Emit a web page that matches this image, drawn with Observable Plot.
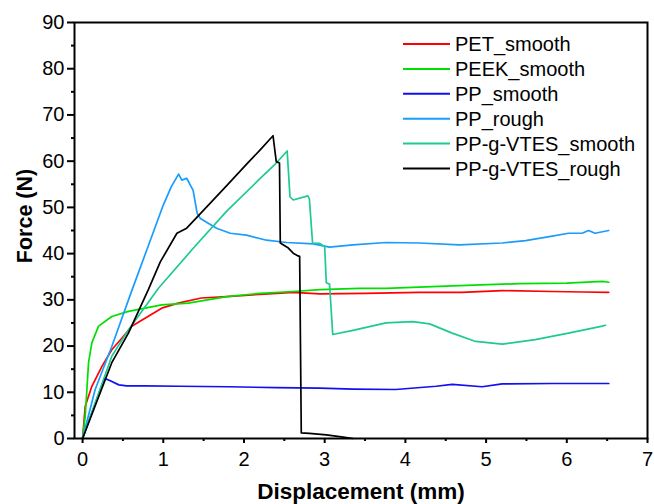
<!DOCTYPE html>
<html>
<head>
<meta charset="utf-8">
<script src="https://cdn.jsdelivr.net/npm/d3@7"></script>
<script src="https://cdn.jsdelivr.net/npm/@observablehq/plot@0.6"></script>
<style>
  html, body { margin: 0; padding: 0; background: #fff; }
  #wrap { position: relative; width: 654px; height: 504px; font-family: "Liberation Sans", Arial, sans-serif; }
  .title { position: absolute; font-weight: bold; color: #000; white-space: nowrap; }
  #ytitle { font-size: 21.5px; left: 25px; top: 216px; transform: translate(-50%, -50%) rotate(-90deg); }
  #xtitle { font-size: 22.5px; left: 361px; top: 492px; transform: translate(-50%, -50%); }
  #legend { position: absolute; left: 0; top: 0; }
</style>
</head>
<body>
<div id="wrap">
  <div id="chart"></div>
  <div class="title" id="ytitle">Force (N)</div>
  <div class="title" id="xtitle">Displacement (mm)</div>
  <svg id="legend" width="654" height="200"></svg>
</div>
<script>
const seriesNames = ["PET_smooth", "PEEK_smooth", "PP_smooth", "PP_rough", "PP-g-VTES_smooth", "PP-g-VTES_rough"];
const seriesColors = ["#ff0000", "#00e000", "#1010f0", "#1a9cff", "#1fc996", "#000000"];

const xTicks = [0, 1, 2, 3, 4, 5, 6, 7];
const xMinorTicks = [0.5, 1.5, 2.5, 3.5, 4.5, 5.5, 6.5];
const yTicks = [0, 10, 20, 30, 40, 50, 60, 70, 80, 90];
const yMinorTicks = [5, 15, 25, 35, 45, 55, 65, 75, 85];

const petX = [0, 0.033, 0.115, 0.24, 0.362, 0.486, 0.61, 0.774, 0.98, 1.185, 1.47, 1.786, 2.198, 2.61, 2.94, 3.5, 4.17, 4.7, 5.2, 5.82, 6.2, 6.52];
const petY = [0, 7, 11.3, 15.6, 19.2, 21.7, 24.3, 26, 28.2, 29.3, 30.4, 30.7, 31.2, 31.6, 31.3, 31.4, 31.6, 31.6, 32, 31.8, 31.7, 31.6];

const peekX = [0, 0.033, 0.074, 0.115, 0.198, 0.362, 0.568, 0.774, 0.98, 1.31, 1.786, 2.198, 2.61, 2.94, 3.43, 3.76, 4.58, 5.41, 6.0, 6.44, 6.52];
const peekY = [0, 4.8, 16.4, 20.7, 24.3, 26.4, 27.5, 28.2, 28.9, 29.3, 30.7, 31.4, 31.8, 32.2, 32.5, 32.5, 33, 33.5, 33.6, 34, 33.8];

const ppSmoothX = [0, 0.27, 0.33, 0.45, 0.547, 0.77, 1.2, 1.8, 2.4, 2.94, 3.35, 3.88, 4.38, 4.58, 4.95, 5.2, 5.82, 6.52];
const ppSmoothY = [0, 13.0, 12.6, 11.6, 11.4, 11.4, 11.3, 11.2, 11.0, 10.9, 10.7, 10.6, 11.3, 11.7, 11.2, 11.8, 11.9, 11.9];

const ppRoughX = [0, 0.156, 0.362, 0.61, 0.8, 1.0, 1.1, 1.19, 1.23, 1.29, 1.37, 1.42, 1.46, 1.66, 1.83, 2.03, 2.28, 2.53, 2.86, 3.06, 3.35, 3.76, 4.17, 4.67, 5.2, 5.49, 5.82, 6.02, 6.19, 6.27, 6.35, 6.52];
const ppRoughY = [0, 10.6, 19.9, 32, 41, 50.5, 54.5, 57.2, 55.9, 56.3, 53.7, 48.7, 47.6, 45.5, 44.4, 44.0, 42.9, 42.4, 42.1, 41.4, 41.9, 42.4, 42.3, 41.9, 42.3, 42.8, 43.8, 44.4, 44.4, 45, 44.4, 45];

const vtesSmoothX = [0, 0.362, 0.568, 0.94, 1.374, 1.786, 2.198, 2.40, 2.535, 2.55, 2.57, 2.61, 2.79, 2.81, 2.85, 2.94, 3.0, 3.02, 3.06, 3.10, 3.35, 3.76, 4.09, 4.3, 4.58, 4.87, 5.2, 5.61, 6.02, 6.44, 6.48];
const vtesSmoothY = [0, 17.8, 23.5, 32.5, 41.2, 49.2, 56.2, 59.6, 62.2, 58, 52.3, 51.6, 52.5, 51.9, 42.3, 42.2, 41.5, 33.7, 33.4, 22.5, 23.4, 25, 25.3, 24.8, 22.8, 21, 20.4, 21.4, 22.8, 24.3, 24.5];

const vtesRoughX = [0, 0.362, 0.568, 0.815, 0.963, 1.169, 1.29, 1.457, 1.786, 2.03, 2.198, 2.36, 2.40, 2.44, 2.45, 2.55, 2.61, 2.67, 2.69, 2.71, 2.81, 3.02, 3.23, 3.35];
const vtesRoughY = [0, 16.4, 22.8, 32.2, 38.2, 44.4, 45.5, 48.6, 54.7, 59.3, 62.4, 65.5, 59.9, 59.6, 42.3, 41.2, 40.1, 39.5, 39.4, 1.2, 1.1, 0.8, 0.3, 0];

const seriesX = [petX, peekX, ppSmoothX, ppRoughX, vtesSmoothX, vtesRoughX];
const seriesY = [petY, peekY, ppSmoothY, ppRoughY, vtesSmoothY, vtesRoughY];

const rows = [];
seriesNames.forEach((name, i) => {
  seriesX[i].forEach((x, j) => rows.push({series: name, x, y: seriesY[i][j]}));
});

const chart = Plot.plot({
  width: 654,
  height: 504,
  marginLeft: 74,
  marginRight: 7,
  marginTop: 22,
  marginBottom: 66,
  style: {fontFamily: '"Liberation Sans", Arial, sans-serif', fontSize: "20px", color: "#000", background: "#fff"},
  x: {domain: [-0.1, 7]},
  y: {domain: [0, 90]},
  color: {domain: seriesNames, range: seriesColors},
  marks: [
    Plot.line(rows, {x: "x", y: "y", z: "series", stroke: "series", strokeWidth: 1.7}),
    Plot.frame({stroke: "#000", strokeWidth: 2}),
    Plot.axisX({ticks: xTicks, tickSize: 5, tickPadding: 8, strokeWidth: 2, label: null, fontSize: 20}),
    Plot.axisX({ticks: xMinorTicks, tickSize: 3, strokeWidth: 2, text: null, label: null}),
    Plot.axisY({ticks: yTicks, tickSize: 7, tickPadding: 3, strokeWidth: 2, label: null, fontSize: 20}),
    Plot.axisY({ticks: yMinorTicks, tickSize: 3, strokeWidth: 2, text: null, label: null})
  ]
});
document.getElementById("chart").appendChild(chart);

// Legend
const lg = d3.select("#legend");
seriesNames.forEach((name, i) => {
  const cy = 44 + i * 24.9;
  lg.append("line").attr("x1", 403).attr("x2", 450).attr("y1", cy).attr("y2", cy)
    .attr("stroke", seriesColors[i]).attr("stroke-width", 2);
  lg.append("text").attr("x", 455).attr("y", cy).attr("dy", "0.35em")
    .attr("font-family", '"Liberation Sans", Arial, sans-serif').attr("font-size", 20)
    .attr("fill", "#000").text(name);
});
</script>
</body>
</html>
